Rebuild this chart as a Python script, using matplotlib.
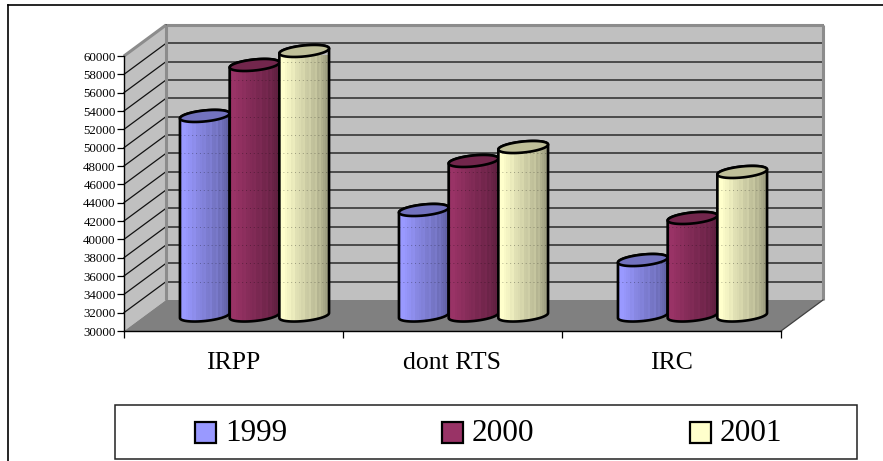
import numpy as np
import matplotlib
matplotlib.use("Agg")
import matplotlib.pyplot as plt
from matplotlib.lines import Line2D
from matplotlib.patches import Polygon, Rectangle

categories = ["IRPP", "dont RTS", "IRC"]
years = ["1999", "2000", "2001"]
v1999 = [51770, 41510, 36050]
v2000 = [57330, 46860, 40640]
v2001 = [58860, 48380, 45660]
yticks = list(range(30000, 60001, 2000))

light = ["#9999FF", "#993366", "#FFFFCC"]
dark = ["#5E5E9E", "#5A1E3C", "#96967A"]
top_col = ["#7272BE", "#72264C", "#BFBF99"]
# banding of the cylinder shading, left to right (1 = light colour, 0 = dark)
bands = [0.85, 1, 1, 0.95, 0.9, 0.88, 0.8, 0.82, 0.72, 0.7, 0.66, 0.6, 0.62, 0.52,
         0.5, 0.55, 0.42, 0.4, 0.46, 0.3, 0.36, 0.25, 0.18, 0.1, 0.05]

W, H = 883, 461
plt.rcParams['font.family'] = ['Liberation Serif', 'DejaVu Serif']

fig = plt.figure(figsize=(W / 100, H / 100), dpi=100, facecolor="white")
ax = fig.add_axes([124 / W, (H - 331) / H, 657 / W, 275 / H])
ax.patch.set_alpha(0)

# depth of the fake 3d box, in data units
dx = 42 / 219
dy = 31 / 275 * 30000
bar_w = 49.7 / 219
ell_b = 600   # half height of the ellipse
ell_s = 270   # tilt of the ellipse

ymin, ymax = 30000, 60000

# walls and floor
ax.add_patch(Polygon([(dx, ymin + dy), (3 + dx, ymin + dy), (3 + dx, ymax + dy), (dx, ymax + dy)],
                     fc="#C0C0C0", ec="none", zorder=1, clip_on=False))
ax.add_patch(Polygon([(0, ymin), (dx, ymin + dy), (dx, ymax + dy), (0, ymax)],
                     fc="#C0C0C0", ec="none", zorder=1, clip_on=False))
ax.add_patch(Polygon([(0, ymin), (3, ymin), (3 + dx, ymin + dy), (dx, ymin + dy)],
                     fc="#808080", ec="none", zorder=2, clip_on=False))

for t in yticks[1:]:
    ax.plot([dx, 3 + dx], [t + dy, t + dy], color="#2a2a2a", lw=1.1, zorder=1.5, clip_on=False)
    ax.plot([0, dx], [t, t + dy], color="#111111", lw=0.9, zorder=1.5, clip_on=False)

wall_edge = dict(color="#8C8C8C", lw=2.2, zorder=1.8, clip_on=False, solid_capstyle="butt")
ax.plot([dx, dx], [ymin + dy, ymax + dy], **wall_edge)
ax.plot([dx, 3 + dx], [ymax + dy, ymax + dy], **wall_edge)
ax.plot([3 + dx, 3 + dx], [ymin + dy, ymax + dy], **wall_edge)
ax.plot([0, dx], [ymax, ymax + dy], **wall_edge)
ax.plot([3, 3 + dx], [ymin, ymin + dy], color="#404040", lw=0.9, zorder=2.1, clip_on=False)

# cylinders
series = [v1999, v2000, v2001]
z = 3
for i in range(len(categories)):
    for j, vals in enumerate(series):
        cx = i + 0.5 + (j - 1) * bar_w + dx / 2
        base = ymin + dy / 2
        top = vals[i] + dy / 2
        a = bar_w / 2

        t_low = np.linspace(np.pi, 2 * np.pi, 40)
        t_all = np.linspace(0, 2 * np.pi, 80)
        low_x = cx + a * np.cos(t_low)
        low_y = base + ell_b * np.sin(t_low) + ell_s * np.cos(t_low)
        t_up = np.linspace(0, np.pi, 40)
        up_x = cx + a * np.cos(t_up)
        up_y = top + ell_b * np.sin(t_up) + ell_s * np.cos(t_up)
        body = Polygon(np.column_stack([np.r_[low_x, up_x], np.r_[low_y, up_y]]),
                       fc="none", ec="black", lw=1.9, zorder=z + 0.5, joinstyle="round", clip_on=False)
        clip = Polygon(body.get_xy(), transform=ax.transData)

        rgb0 = np.array(matplotlib.colors.to_rgb(light[j]))
        rgb1 = np.array(matplotlib.colors.to_rgb(dark[j]))
        img = np.array([[rgb1 + (rgb0 - rgb1) * b for b in bands]])
        im = ax.imshow(img, extent=[cx - a, cx + a, base - ell_b * 2, top + ell_b * 2],
                       aspect="auto", zorder=z, interpolation="nearest")
        im.set_clip_box(None)
        im.set_clip_path(clip)

        # gridlines faintly showing through
        for t in yticks[1:]:
            if t + dy < top:
                ln, = ax.plot([cx - a, cx + a], [t + dy, t + dy], color="black", lw=0.7,
                              ls=(0, (1, 3)), alpha=0.3, zorder=z + 0.1)
                ln.set_clip_box(None)
                ln.set_clip_path(clip)

        ax.add_patch(body)
        ax.add_patch(Polygon(np.column_stack([cx + a * np.cos(t_all),
                                              top + ell_b * np.sin(t_all) + ell_s * np.cos(t_all)]),
                             fc=top_col[j], ec="black", lw=1.9, zorder=z + 0.6, clip_on=False))
        z += 1

ax.set_xlim(0, 3)
ax.set_ylim(ymin, ymax)
for s in ["top", "right"]:
    ax.spines[s].set_visible(False)
for s in ["left", "bottom"]:
    ax.spines[s].set_linewidth(1.0)
    ax.spines[s].set_zorder(2.5)

ax.set_yticks(yticks)
ax.tick_params(axis="y", length=5, width=0.9, labelsize=9.3, pad=1)
ax.set_xticks([0, 1, 2, 3])
ax.set_xticklabels([])
ax.set_xticks([0.5, 1.5, 2.5], labels=categories, minor=True)
ax.tick_params(axis="x", which="major", length=5, width=0.9)
ax.tick_params(axis="x", which="minor", length=0, labelsize=18.5, pad=15)

# outer frame, runs off the right and bottom of the picture
fig.add_artist(Line2D([8 / W, 1], [(H - 5) / H, (H - 5) / H], color="black", lw=1.2))
fig.add_artist(Line2D([8 / W, 8 / W], [0, (H - 5) / H], color="black", lw=1.2))

# legend
fig.add_artist(Rectangle((115 / W, (H - 459) / H), 742 / W, 54 / H, fc="white", ec="#222222", lw=1.1,
                         transform=fig.transFigure))
swatch_x = [195, 442, 690]
for j, y in enumerate(years):
    fig.add_artist(Rectangle((swatch_x[j] / W, (H - 443) / H), 21 / W, 21 / H, fc=light[j], ec="black",
                             lw=1.6, transform=fig.transFigure))
    fig.text((swatch_x[j] + 30) / W, (H - 433) / H, y, fontsize=22.5, va="center", ha="left", color="black")

fig.savefig("out.png", dpi=100)
